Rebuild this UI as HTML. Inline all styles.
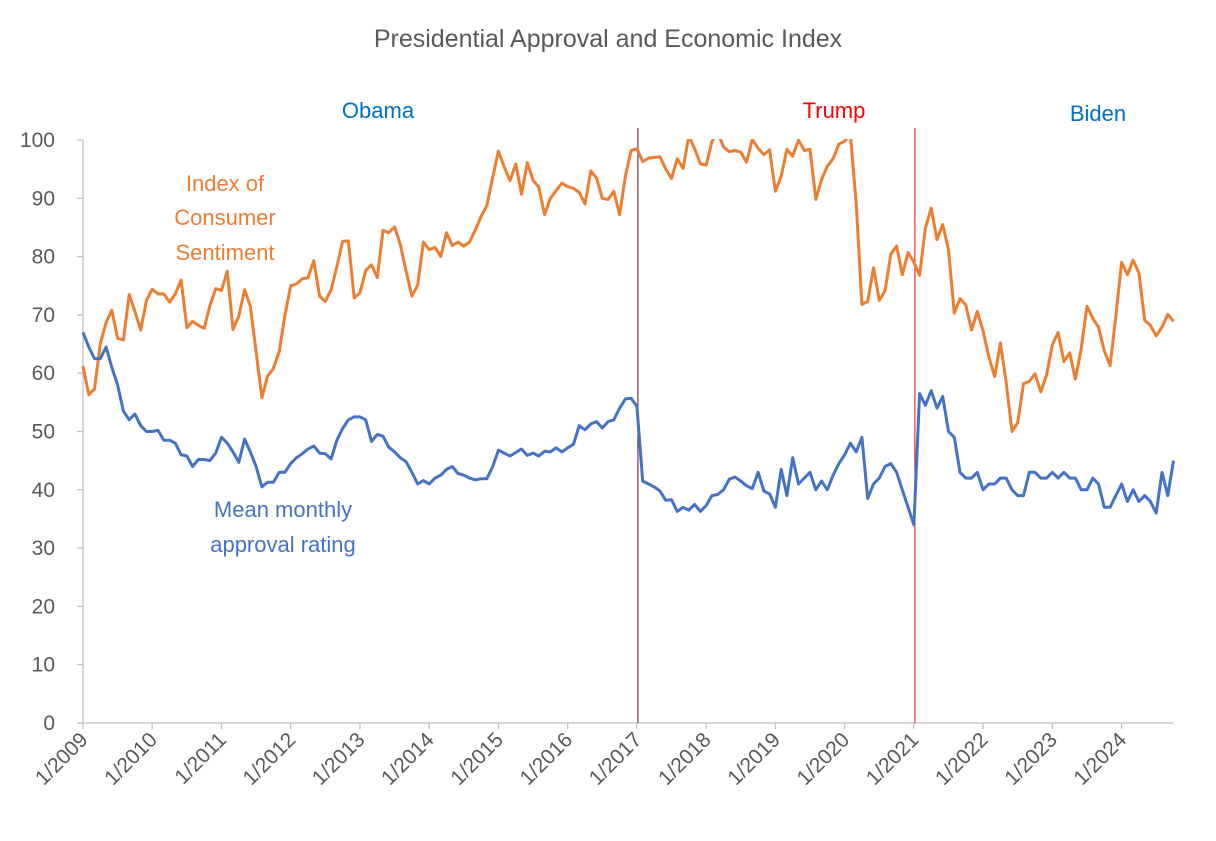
<!DOCTYPE html>
<html><head><meta charset="utf-8"><style>
html,body{margin:0;padding:0;background:#fff;}
svg text{font-family:"Liberation Sans",sans-serif;}
</style></head><body>
<svg id="chart" width="1216" height="836" xmlns="http://www.w3.org/2000/svg">
<defs><clipPath id="plotclip"><rect x="70" y="139" width="1120" height="600"/></clipPath></defs>
<text x="608" y="47" text-anchor="middle" font-size="25" fill="#595959">Presidential Approval and Economic Index</text>
<text x="378" y="118" text-anchor="middle" font-size="22" fill="#0070c0">Obama</text>
<text x="834" y="118" text-anchor="middle" font-size="22" fill="#ff0000">Trump</text>
<text x="1098" y="121" text-anchor="middle" font-size="22" fill="#0070c0">Biden</text>
<g font-size="22" fill="#ed7d31" text-anchor="middle">
<text x="225" y="191">Index of</text><text x="225" y="225">Consumer</text><text x="225" y="260">Sentiment</text></g>
<g font-size="22" fill="#4472c4" text-anchor="middle">
<text x="283" y="517">Mean monthly</text><text x="283" y="552">approval rating</text></g>
<g id="axes"></g>
<g id="series" clip-path="url(#plotclip)"></g>
</svg>
<script>
const yTicks=[0,10,20,30,40,50,60,70,80,90,100];
const xTickLabels=["1/2009","1/2010","1/2011","1/2012","1/2013","1/2014","1/2015","1/2016","1/2017","1/2018","1/2019","1/2020","1/2021","1/2022","1/2023","1/2024"];
const termStarts=[96,144];
const sentiment=[61.2,56.3,57.3,65.1,68.7,70.8,66.0,65.7,73.5,70.6,67.4,72.5,
74.4,73.6,73.6,72.2,73.6,76.0,67.8,68.9,68.2,67.7,71.6,74.5,
74.2,77.5,67.5,69.8,74.3,71.5,63.7,55.8,59.5,60.8,63.7,69.9,
75.0,75.3,76.2,76.4,79.3,73.2,72.3,74.3,78.3,82.6,82.7,72.9,
73.8,77.6,78.6,76.4,84.5,84.1,85.1,82.1,77.5,73.2,75.1,82.5,
81.2,81.6,80.0,84.1,81.9,82.5,81.8,82.5,84.6,86.9,88.8,93.6,
98.1,95.4,93.0,95.9,90.7,96.1,93.1,91.9,87.2,90.0,91.3,92.6,
92.0,91.7,91.0,89.0,94.7,93.5,90.0,89.8,91.2,87.2,93.8,98.2,
98.5,96.3,96.9,97.0,97.1,95.0,93.4,96.8,95.1,100.7,98.5,95.9,
95.7,99.7,101.4,98.8,98.0,98.2,97.9,96.2,100.1,98.6,97.5,98.3,
91.2,93.8,98.4,97.2,100.0,98.2,98.4,89.8,93.2,95.5,96.8,99.3,
99.8,101.0,89.1,71.8,72.3,78.1,72.5,74.1,80.4,81.8,76.9,80.7,
79.0,76.8,84.9,88.3,82.9,85.5,81.2,70.3,72.8,71.7,67.4,70.6,
67.2,62.8,59.4,65.2,58.4,50.0,51.5,58.2,58.6,59.9,56.8,59.7,
64.9,67.0,62.0,63.5,59.0,64.2,71.5,69.4,67.9,63.8,61.3,69.7,
79.0,76.9,79.4,77.2,69.1,68.2,66.4,67.9,70.1,68.9];
const approval=[67,64.5,62.5,62.5,64.5,61,58,53.5,52,53,51,50,
50,50.2,48.5,48.5,48,46,45.8,44,45.2,45.2,45,46.3,
49,48,46.5,44.7,48.7,46.5,44,40.5,41.3,41.3,43,43,
44.5,45.5,46.2,47,47.5,46.3,46.2,45.3,48.5,50.5,52,52.5,
52.5,52,48.3,49.5,49.2,47.3,46.5,45.5,44.8,43,41,41.6,
41,42,42.5,43.5,44,42.8,42.5,42,41.7,41.9,41.9,44,
46.8,46.3,45.8,46.4,47,45.9,46.3,45.8,46.6,46.5,47.2,46.5,
47.2,47.8,51,50.3,51.3,51.7,50.6,51.7,52,54,55.6,55.7,
54.3,41.5,41,40.5,39.8,38.2,38.3,36.3,37,36.5,37.5,36.3,
37.3,39,39.2,40,41.8,42.2,41.5,40.7,40.2,43,39.8,39.3,
37,43.5,39,45.5,41,42,43,40,41.5,40,42.5,44.5,
46,48,46.5,49,38.5,41,42,44,44.5,43,40,37,
34,56.5,54.5,57,54,56,50,49,43,42,42,43,
40,41,41,42,42,40,39,39,43,43,42,42,
43,42,43,42,42,40,40,42,41,37,37,39,
41,38,40,38,39,38,36,43,39,45];
const NS="http://www.w3.org/2000/svg";
const X0=83,XM=5.77,Y0=723,YS=5.83;
function xs(m){return X0+m*XM;}
function ys(v){return Y0-v*YS;}
function mk(tag,attrs,parent){const e=document.createElementNS(NS,tag);for(const k in attrs)e.setAttribute(k,attrs[k]);parent.appendChild(e);return e;}
const axes=document.getElementById('axes'),series=document.getElementById('series');
const n=sentiment.length;
const xa=mk('line',{x1:X0,y1:Y0,x2:xs(n-1),y2:Y0,stroke:'#bfbfbf','stroke-width':1.3},axes);


const ya=mk('line',{x1:X0,y1:ys(0),x2:X0,y2:ys(100),stroke:'#bfbfbf','stroke-width':1.3},axes);


yTicks.forEach(v=>{
 mk('line',{x1:X0-6,y1:ys(v),x2:X0,y2:ys(v),stroke:'#bfbfbf','stroke-width':1.3},axes);
 const t=mk('text',{x:55,y:ys(v)+7,'text-anchor':'end','font-size':21,fill:'#595959'},axes);
 t.textContent=v;
 
 
});
xTickLabels.forEach((lab,i)=>{
 const x=xs(i*12);
 mk('line',{x1:x,y1:Y0,x2:x,y2:Y0+6,stroke:'#bfbfbf','stroke-width':1.3},axes);
 const t=mk('text',{x:x+6,y:Y0+18,'text-anchor':'end','font-size':21,fill:'#595959',transform:`rotate(-45 ${x+6} ${Y0+18})`},axes);
 t.textContent=lab;
 
 
});
termStarts.forEach((m,i)=>{
 const l=mk('line',{x1:xs(m)+1,y1:128,x2:xs(m)+1,y2:Y0,stroke:i==0?'#5a1030':'#ff0000','stroke-width':1},axes);
 
 
});
function path(arr){return arr.map((v,i)=>(i?'L':'M')+xs(i).toFixed(1)+','+ys(v).toFixed(1)).join('');}
const ps=mk('path',{d:path(sentiment),fill:'none',stroke:'#ed7d31','stroke-width':3,'stroke-linejoin':'round'},series);


const pa=mk('path',{d:path(approval),fill:'none',stroke:'#4472c4','stroke-width':3,'stroke-linejoin':'round'},series);


</script>
</body></html>
